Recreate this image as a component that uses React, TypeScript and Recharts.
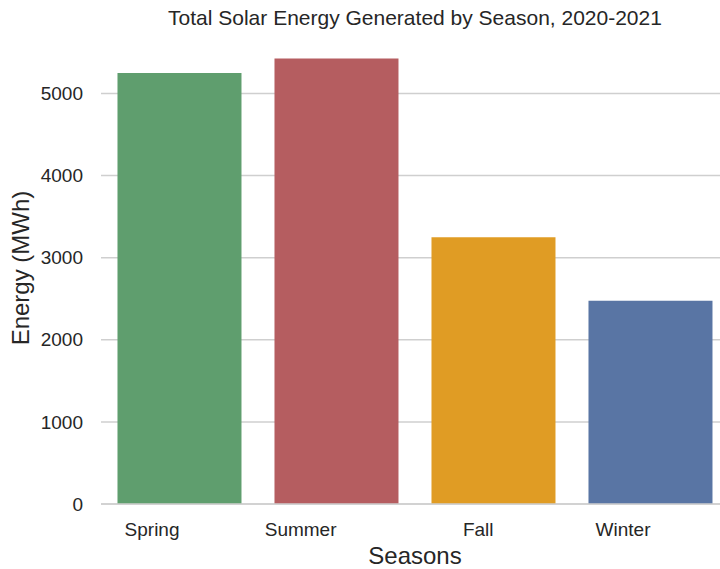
import React from "react";
import { Bar, BarChart, CartesianGrid, Cell, XAxis, YAxis } from "recharts";

const seasons = ["Spring", "Summer", "Fall", "Winter"];
const energy = [5250, 5425, 3250, 2475];
const barColors = ["#5f9e6e", "#b55d60", "#e09c24", "#5975a4"];
const yTicks = [0, 1000, 2000, 3000, 4000, 5000];

const FONT = "'Liberation Sans', Arial, Helvetica, sans-serif";
const TEXT = "#262626";

interface TickProps {
  x?: number;
  y?: number;
  payload?: { value: string | number };
}

function SeasonTick({ x = 0, y = 0, payload }: TickProps) {
  return (
    <text
      x={x}
      y={y + 32}
      textAnchor="end"
      fontSize={19}
      fontFamily={FONT}
      fill={TEXT}
    >
      {payload?.value}
    </text>
  );
}

function EnergyTick({ x = 0, y = 0, payload }: TickProps) {
  return (
    <text
      x={x - 18}
      y={y}
      dy="0.35em"
      textAnchor="end"
      fontSize={19}
      fontFamily={FONT}
      fill={TEXT}
    >
      {payload?.value}
    </text>
  );
}

export default function App() {
  const data = seasons.map((season, i) => ({ season, energy: energy[i] }));

  return (
    <div
      style={{
        position: "absolute",
        left: 0,
        top: 0,
        width: 720,
        height: 569,
        overflow: "hidden",
        background: "#ffffff",
      }}
    >
      <BarChart
        width={740}
        height={569}
        data={data}
        margin={{ top: 36, right: 11, left: 0, bottom: 0 }}
        barCategoryGap="10.5%"
      >
        <CartesianGrid
          vertical={false}
          syncWithTicks
          stroke="#cfcfcf"
          strokeWidth={1.5}
        />
        <XAxis
          dataKey="season"
          height={65}
          tickSize={0}
          tickMargin={0}
          tickLine={false}
          axisLine={{ stroke: "#cfcfcf", strokeWidth: 1.5 }}
          tick={<SeasonTick />}
          interval={0}
        />
        <YAxis
          width={101}
          domain={[0, 5700]}
          ticks={yTicks}
          tickSize={0}
          tickMargin={0}
          tickLine={false}
          axisLine={false}
          tick={<EnergyTick />}
        />
        <Bar dataKey="energy" isAnimationActive={false}>
          {data.map((d, i) => (
            <Cell key={d.season} fill={barColors[i]} />
          ))}
        </Bar>
      </BarChart>
      <svg
        width={720}
        height={569}
        style={{ position: "absolute", left: 0, top: 0, pointerEvents: "none" }}
      >
        <text
          x={415}
          y={25}
          textAnchor="middle"
          fontSize={21}
          fontFamily={FONT}
          fill={TEXT}
        >
          Total Solar Energy Generated by Season, 2020-2021
        </text>
        <text
          x={415}
          y={564}
          textAnchor="middle"
          fontSize={24}
          fontFamily={FONT}
          fill={TEXT}
        >
          Seasons
        </text>
        <text
          x={29}
          y={268}
          textAnchor="middle"
          fontSize={24}
          fontFamily={FONT}
          fill={TEXT}
          transform="rotate(-90, 29, 268)"
        >
          Energy (MWh)
        </text>
      </svg>
    </div>
  );
}
